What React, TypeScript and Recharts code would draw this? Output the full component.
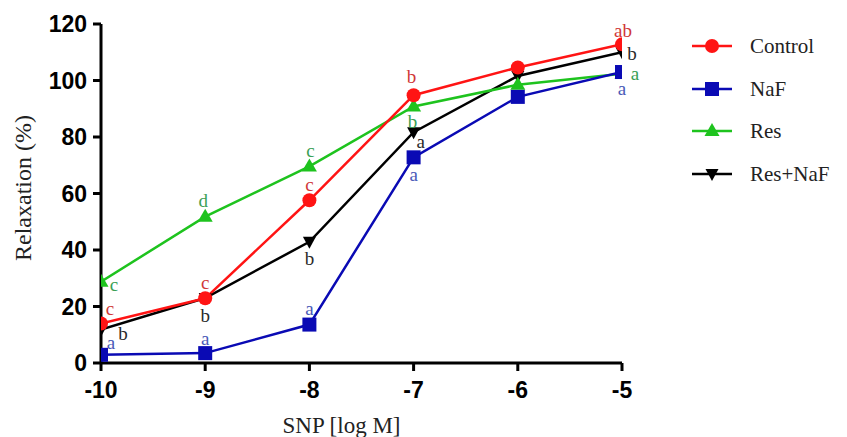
import React from "react";
import { LineChart, Line, XAxis, YAxis, LabelList, Label } from "recharts";

const xValues = [-10, -9, -8, -7, -6, -5];
const xTicks = [-10, -9, -8, -7, -6, -5];
const yTicks = [0, 20, 40, 60, 80, 100, 120];

const seriesNames = ["Control", "NaF", "Res", "Res+NaF"];
const controlValues = [14.0, 22.9, 57.6, 94.8, 104.6, 112.8];
const nafValues = [2.9, 3.5, 13.6, 72.8, 94.2, 103.0];
const resValues = [28.8, 51.8, 69.6, 90.8, 98.5, 102.4];
const resNafValues = [11.8, 23.0, 42.9, 81.7, 101.6, 110.0];

const controlLetters = ["c", "c", "c", "b", "", "ab"];
const nafLetters = ["a", "a", "a", "a", "", "a"];
const resLetters = ["c", "d", "c", "b", "", "a"];
const resNafLetters = ["b", "b", "b", "a", "", "b"];

const xLabel = "SNP [log M]";
const yLabel = "Relaxation (%)";

// label placement offsets (style, not data)
const controlOff = [[9, -15], [0, -16], [0, -16], [-2, -19], [0, 0], [1, -14]];
const nafOff = [[10, -12], [0, -15], [0, -16], [0, 17], [0, 0], [0, 16]];
const resOff = [[13, 3], [-2, -16], [1, -16], [-1, 15], [0, 0], [13, 0]];
const resNafOff = [[22, 4], [0, 17], [0, 17], [7, 9], [0, 0], [10, 1]];

const data = xValues.map((x, i) => ({
  x,
  control: controlValues[i],
  naf: nafValues[i],
  res: resValues[i],
  resNaf: resNafValues[i],
  controlL: controlLetters[i],
  nafL: nafLetters[i],
  resL: resLetters[i],
  resNafL: resNafLetters[i],
}));

const RED = "#ff1414";
const BLUE = "#0a0ab4";
const GREEN = "#1ec31e";
const BLACK = "#000000";

const shapeFor = (kind: string, cx: number, cy: number, color: string, key?: any) => {
  if (kind === "circle") return <circle key={key} cx={cx} cy={cy} r={7} fill={color} />;
  if (kind === "square") return <rect key={key} x={cx - 7} y={cy - 7} width={14} height={14} fill={color} />;
  if (kind === "up")
    return <polygon key={key} points={`${cx},${cy - 8} ${cx - 7.5},${cy + 5} ${cx + 7.5},${cy + 5}`} fill={color} />;
  return <polygon key={key} points={`${cx - 6.5},${cy - 5} ${cx + 6.5},${cy - 5} ${cx},${cy + 7}`} fill={color} />;
};

const makeDot = (kind: string, color: string) => (props: any) => {
  const { cx, cy, index } = props;
  if (cx == null || cy == null) return <g key={`d${index}`} />;
  return shapeFor(kind, cx, cy, color, `d${kind}${index}`);
};

const makeLabel = (offsets: number[][], color: string) => (props: any) => {
  const { x, y, value, index } = props;
  if (!value) return null;
  const o = offsets[index] || [0, 0];
  return (
    <text
      x={x + o[0]}
      y={y + o[1]}
      textAnchor="middle"
      dominantBaseline="central"
      fill={color}
      fontFamily="'Liberation Serif', 'Times New Roman', serif"
      fontSize={19}
    >
      {value}
    </text>
  );
};

const tickFont = {
  fontFamily: "'Liberation Sans', Arial, sans-serif",
  fontWeight: "bold" as const,
  fontSize: 23,
  fill: "#000",
};

const legendItems = [
  { name: seriesNames[0], color: RED, kind: "circle" },
  { name: seriesNames[1], color: BLUE, kind: "square" },
  { name: seriesNames[2], color: GREEN, kind: "up" },
  { name: seriesNames[3], color: BLACK, kind: "down" },
];

export default function App() {
  return (
    <div style={{ position: "absolute", left: 0, top: 0, width: 847, height: 437, background: "#fff" }}>
      <LineChart width={847} height={437} data={data} margin={{ top: 24, right: 225, bottom: 0, left: 0 }}>
        <XAxis
          dataKey="x"
          type="number"
          domain={[-10, -5]}
          ticks={xTicks}
          allowDataOverflow
          height={74}
          axisLine={{ stroke: "#000", strokeWidth: 3 }}
          tickLine={{ stroke: "#000", strokeWidth: 3 }}
          tickSize={8}
          tickMargin={11}
          tick={tickFont}
        >
          <Label
            content={(p: any) => {
              const vb = p.viewBox || { x: 101, y: 363, width: 521, height: 74 };
              return (
                <text
                  x={vb.x + vb.width / 2 - 20}
                  y={433}
                  textAnchor="middle"
                  fill="#222"
                  fontFamily="'Liberation Serif', 'Times New Roman', serif"
                  fontSize={23}
                >
                  {xLabel}
                </text>
              );
            }}
          />
        </XAxis>
        <YAxis
          type="number"
          domain={[0, 120]}
          ticks={yTicks}
          width={101}
          axisLine={{ stroke: "#000", strokeWidth: 3 }}
          tickLine={{ stroke: "#000", strokeWidth: 3 }}
          tickSize={8}
          tickMargin={6}
          tick={tickFont}
        >
          <Label
            content={() => {
              const cy = 188;
              const cx = 31;
              return (
                <text
                  x={cx}
                  y={cy}
                  transform={`rotate(-90, ${cx}, ${cy})`}
                  textAnchor="middle"
                  fill="#222"
                  fontFamily="'Liberation Serif', 'Times New Roman', serif"
                  fontSize={24}
                >
                  {yLabel}
                </text>
              );
            }}
          />
        </YAxis>
        <Line
          dataKey="resNaf"
          stroke={BLACK}
          strokeWidth={2.5}
          dot={makeDot("down", BLACK)}
          activeDot={false}
          isAnimationActive={false}
        >
          <LabelList dataKey="resNafL" content={makeLabel(resNafOff, "#2a2a2a")} />
        </Line>
        <Line
          dataKey="res"
          stroke={GREEN}
          strokeWidth={2.5}
          dot={makeDot("up", GREEN)}
          activeDot={false}
          isAnimationActive={false}
        >
          <LabelList dataKey="resL" content={makeLabel(resOff, "#3aa055")} />
        </Line>
        <Line
          dataKey="naf"
          stroke={BLUE}
          strokeWidth={2.5}
          dot={makeDot("square", BLUE)}
          activeDot={false}
          isAnimationActive={false}
        >
          <LabelList dataKey="nafL" content={makeLabel(nafOff, "#4a5ab8")} />
        </Line>
        <Line
          dataKey="control"
          stroke={RED}
          strokeWidth={2.5}
          dot={makeDot("circle", RED)}
          activeDot={false}
          isAnimationActive={false}
        >
          <LabelList dataKey="controlL" content={makeLabel(controlOff, "#d03838")} />
        </Line>
      </LineChart>
      <div style={{ position: "absolute", left: 690, top: 25 }}>
        {legendItems.map((it) => (
          <div key={it.name} style={{ display: "flex", alignItems: "center", height: 42.5 }}>
            <svg width={44} height={20} style={{ display: "block" }}>
              <line x1={2} y1={10} x2={42} y2={10} stroke={it.color} strokeWidth={2.5} />
              {shapeFor(it.kind, 22, 10, it.color)}
            </svg>
            <span
              style={{
                marginLeft: 16,
                fontFamily: "'Liberation Serif', 'Times New Roman', serif",
                fontSize: 21,
                color: "#222",
                lineHeight: "20px",
              }}
            >
              {it.name}
            </span>
          </div>
        ))}
      </div>
    </div>
  );
}
